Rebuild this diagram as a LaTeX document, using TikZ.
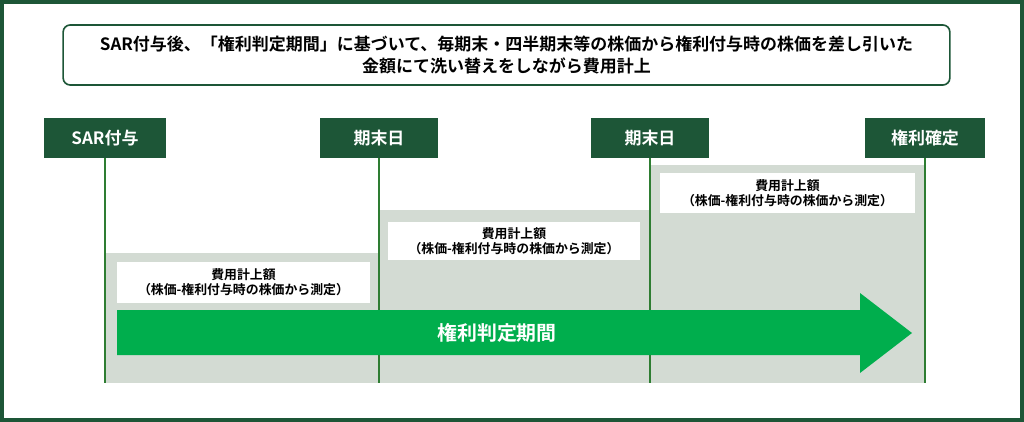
\documentclass[tikz,border=0pt]{standalone}
\usepackage{fontspec}
\setmainfont{Noto Sans CJK JP}[BoldFont={* Bold}]
\definecolor{dkgreen}{HTML}{1D5637}
\definecolor{lngreen}{HTML}{2E7D32}
\definecolor{arrgreen}{HTML}{00AE4D}
\definecolor{dotgray}{HTML}{D3DBD3}
\tikzset{
  hdr/.style={fill=dkgreen,text=white,font=\bfseries\fontsize{14.5}{16}\selectfont,minimum height=1.2cm,inner sep=0pt},
  lbl/.style={fill=white,font=\bfseries\fontsize{11}{13}\selectfont,align=center,inner sep=0pt},
  tick/.style={draw=lngreen,line width=2.4pt},
}
\begin{document}
\begin{tikzpicture}[x={(0.03cm,0)},y={(0,-0.03cm)}]
\useasboundingbox (0,0) rectangle (1024,422);
\draw[dkgreen,line width=3pt] (2,2) rectangle (1022,420);
%
\node[draw=dkgreen,line width=1.4pt,rounded corners=6pt,minimum width=26.6cm,minimum height=1.8cm,
  align=center,font=\bfseries\fontsize{14.5}{19}\selectfont] (title) at (506.5,55)
  {SAR付与後、「権利判定期間」に基づいて、毎期末・四半期末等の株価から権利付与時の株価を差し引いた\\金額にて洗い替えをしながら費用計上};
%
\fill[dotgray] (105,253) rectangle (379,383);
\fill[dotgray] (379,210) rectangle (650,383);
\fill[dotgray] (650,165) rectangle (925,383);
%
\node[hdr,minimum width=3.63cm] (grant) at (105,138) {SAR付与};
\node[hdr,minimum width=3.54cm] (end1) at (379,138) {期末日};
\node[hdr,minimum width=3.54cm] (end2) at (650,138) {期末日};
\node[hdr,minimum width=3.6cm] (vest) at (925,138) {権利確定};
\coordinate (g0) at (105,383);
\coordinate (e10) at (379,383);
\coordinate (e20) at (650,383);
\coordinate (v0) at (925,383);
\draw[tick] (grant.south) -- (g0);
\draw[tick] (end1.south) -- (e10);
\draw[tick] (end2.south) -- (e20);
\draw[tick] (vest.south) -- (v0);
%
\node[lbl,minimum width=7.6cm,minimum height=1.23cm] (c1) at (243.5,282.5) {費用計上額\\（株価-権利付与時の株価から測定）};
\node[lbl,minimum width=7.56cm,minimum height=1.14cm] (c2) at (514,241) {費用計上額\\（株価-権利付与時の株価から測定）};
\node[lbl,minimum width=7.65cm,minimum height=1.2cm] (c3) at (787.5,193) {費用計上額\\（株価-権利付与時の株価から測定）};
%
\fill[arrgreen] (117,310) -- (860,310) -- (860,293) -- (912,333) -- (860,373) -- (860,355) -- (117,355) -- cycle;
\node[text=white,font=\bfseries\fontsize{17}{19}\selectfont] (period) at (497,333) {権利判定期間};
\end{tikzpicture}
\end{document}
